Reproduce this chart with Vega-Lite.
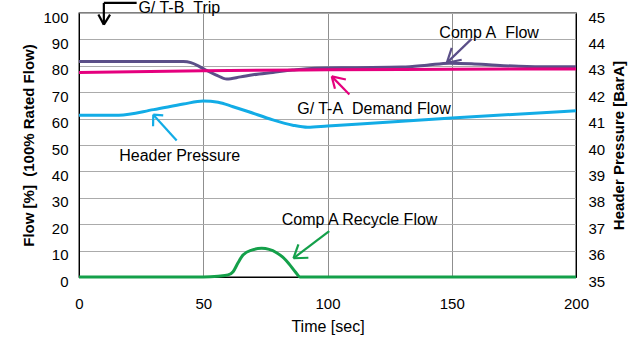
{
  "$schema": "https://vega.github.io/schema/vega-lite/v6.json",
  "width": 497,
  "height": 264,
  "autosize": "none",
  "padding": {"left": 79, "top": 13, "right": 65, "bottom": 62},
  "config": {
    "font": "Liberation Sans",
    "view": {"stroke": "#000000", "strokeWidth": 1.3},
    "axis": {"labelColor": "#000000", "titleColor": "#000000", "domainColor": "#000000", "labelFont": "Liberation Sans", "titleFont": "Liberation Sans"}
  },
  "datasets": {
    "flows": [
      {"series": "Comp A Flow", "t": 0, "f": 81.6},
      {"series": "Comp A Flow", "t": 42, "f": 81.6},
      {"series": "Comp A Flow", "t": 45, "f": 81.2},
      {"series": "Comp A Flow", "t": 48, "f": 80.0},
      {"series": "Comp A Flow", "t": 51, "f": 78.4},
      {"series": "Comp A Flow", "t": 55, "f": 76.6},
      {"series": "Comp A Flow", "t": 59.5, "f": 75.0},
      {"series": "Comp A Flow", "t": 65, "f": 75.8},
      {"series": "Comp A Flow", "t": 70, "f": 76.6},
      {"series": "Comp A Flow", "t": 78, "f": 77.5},
      {"series": "Comp A Flow", "t": 86, "f": 78.4},
      {"series": "Comp A Flow", "t": 95, "f": 79.1},
      {"series": "Comp A Flow", "t": 110, "f": 79.3},
      {"series": "Comp A Flow", "t": 130, "f": 79.5},
      {"series": "Comp A Flow", "t": 140, "f": 80.2},
      {"series": "Comp A Flow", "t": 149, "f": 81.0},
      {"series": "Comp A Flow", "t": 158, "f": 80.8},
      {"series": "Comp A Flow", "t": 168, "f": 80.2},
      {"series": "Comp A Flow", "t": 177, "f": 79.8},
      {"series": "Comp A Flow", "t": 190, "f": 79.6},
      {"series": "Comp A Flow", "t": 200, "f": 79.6},
      {"series": "G/T-A Demand Flow", "t": 0, "f": 77.5},
      {"series": "G/T-A Demand Flow", "t": 50, "f": 78.1},
      {"series": "G/T-A Demand Flow", "t": 100, "f": 78.5},
      {"series": "G/T-A Demand Flow", "t": 150, "f": 78.7},
      {"series": "G/T-A Demand Flow", "t": 200, "f": 78.8},
      {"series": "Comp A Recycle Flow", "t": 0, "f": 0},
      {"series": "Comp A Recycle Flow", "t": 50, "f": 0},
      {"series": "Comp A Recycle Flow", "t": 56, "f": 0.3},
      {"series": "Comp A Recycle Flow", "t": 60, "f": 0.8},
      {"series": "Comp A Recycle Flow", "t": 62, "f": 2.0},
      {"series": "Comp A Recycle Flow", "t": 64, "f": 5.4},
      {"series": "Comp A Recycle Flow", "t": 66, "f": 8.3},
      {"series": "Comp A Recycle Flow", "t": 69.5, "f": 10.2},
      {"series": "Comp A Recycle Flow", "t": 73.5, "f": 10.85},
      {"series": "Comp A Recycle Flow", "t": 79.5, "f": 9.2},
      {"series": "Comp A Recycle Flow", "t": 82, "f": 7.5},
      {"series": "Comp A Recycle Flow", "t": 85, "f": 4.4},
      {"series": "Comp A Recycle Flow", "t": 87, "f": 2.0},
      {"series": "Comp A Recycle Flow", "t": 89, "f": 0},
      {"series": "Comp A Recycle Flow", "t": 200, "f": 0}
    ],
    "pressure": [
      {"t": 0, "p": 41.13},
      {"t": 16, "p": 41.13},
      {"t": 30, "p": 41.34},
      {"t": 42, "p": 41.55},
      {"t": 50, "p": 41.67},
      {"t": 56, "p": 41.62},
      {"t": 62, "p": 41.45},
      {"t": 68, "p": 41.27},
      {"t": 78, "p": 40.95},
      {"t": 86, "p": 40.75},
      {"t": 92, "p": 40.67},
      {"t": 100, "p": 40.72},
      {"t": 113, "p": 40.8},
      {"t": 150, "p": 41.02},
      {"t": 200, "p": 41.3}
    ],
    "arrows": [
      {"series": "Trip", "t": 10, "f": 103.8, "t2": 23.2, "f2": 103.8},
      {"series": "Trip", "t": 10, "f": 103.8, "t2": 10, "f2": 95.6},
      {"series": "Trip", "t": 10, "f": 95.6, "t2": 7.8, "f2": 99.4},
      {"series": "Trip", "t": 10, "f": 95.6, "t2": 12.5, "f2": 99.4},
      {"series": "Comp A Flow", "t": 158, "f": 90.2, "t2": 148, "f2": 81.1},
      {"series": "Comp A Flow", "t": 148, "f": 81.1, "t2": 150, "f2": 86.8},
      {"series": "Comp A Flow", "t": 148, "f": 81.1, "t2": 154, "f2": 82.3},
      {"series": "G/T-A Demand Flow", "t": 108.8, "f": 69.1, "t2": 101.7, "f2": 76.0},
      {"series": "G/T-A Demand Flow", "t": 101.7, "f": 76.0, "t2": 107.4, "f2": 74.8},
      {"series": "G/T-A Demand Flow", "t": 101.7, "f": 76.0, "t2": 103, "f2": 71.3},
      {"series": "Header Pressure", "t": 39.3, "f": 51.7, "t2": 29.9, "f2": 61.5},
      {"series": "Header Pressure", "t": 29.9, "f": 61.5, "t2": 29.8, "f2": 57.1},
      {"series": "Header Pressure", "t": 29.9, "f": 61.5, "t2": 33.9, "f2": 61.2},
      {"series": "Comp A Recycle Flow", "t": 100.7, "f": 17.4, "t2": 86.3, "f2": 7.1},
      {"series": "Comp A Recycle Flow", "t": 86.3, "f": 7.1, "t2": 92.3, "f2": 7.3},
      {"series": "Comp A Recycle Flow", "t": 86.3, "f": 7.1, "t2": 88.3, "f2": 12.4}
    ],
    "labels": [
      {"label": "G/ T-B\u00a0\u00a0Trip", "t": 23.9, "f": 101.8},
      {"label": "Comp A\u00a0\u00a0Flow", "t": 145, "f": 92.5},
      {"label": "G/ T-A\u00a0\u00a0Demand Flow", "t": 87.8, "f": 63.6},
      {"label": "Header Pressure", "t": 16.2, "f": 46},
      {"label": "Comp A Recycle Flow", "t": 81.6, "f": 21.6}
    ]
  },
  "layer": [
    {
      "layer": [
        {
          "data": {"name": "flows"},
          "mark": {"type": "line", "strokeWidth": 3, "interpolate": "monotone"},
          "encoding": {
            "x": {"field": "t", "type": "quantitative", "scale": {"domain": [0, 200], "nice": false},
              "axis": {"values": [0, 50, 100, 150, 200], "title": "Time [sec]", "tickSize": 0, "labelPadding": 19, "labelFontSize": 15, "labelFlush": false, "titleFontSize": 16, "titleFontWeight": "normal", "titleY": 49, "titleBaseline": "middle", "gridColor": "#8f8f8f", "gridOpacity": 1}},
            "y": {"field": "f", "type": "quantitative", "scale": {"domain": [0, 100], "nice": false},
              "axis": {"values": [0, 10, 20, 30, 40, 50, 60, 70, 80, 90, 100], "title": "Flow [%]\u00a0\u00a0(100% Rated Flow)", "tickSize": 0, "labelPadding": 11, "labelFontSize": 15, "labelOffset": 4, "titleFontSize": 15, "titleFontWeight": "bold", "titleAngle": -90, "titleX": -51, "titleY": 132, "titleAlign": "center", "titleBaseline": "middle", "gridColor": "#ababab", "gridOpacity": 1}},
            "color": {"field": "series", "type": "nominal", "legend": null,
              "scale": {"domain": ["Comp A Flow", "G/T-A Demand Flow", "Header Pressure", "Comp A Recycle Flow", "Trip"], "range": ["#5b4f88", "#e5007e", "#12ace6", "#14a04a", "#000000"]}}
          }
        },
        {
          "data": {"name": "arrows"},
          "mark": {"type": "rule", "strokeWidth": 2.2},
          "encoding": {
            "x": {"field": "t", "type": "quantitative",
              "axis": {"values": [0, 50, 100, 150, 200], "title": "Time [sec]", "tickSize": 0, "labelPadding": 19, "labelFontSize": 15, "labelFlush": false, "titleFontSize": 16, "titleFontWeight": "normal", "titleY": 49, "titleBaseline": "middle", "gridColor": "#8f8f8f", "gridOpacity": 1}},
            "y": {"field": "f", "type": "quantitative",
              "axis": {"values": [0, 10, 20, 30, 40, 50, 60, 70, 80, 90, 100], "title": "Flow [%]\u00a0\u00a0(100% Rated Flow)", "tickSize": 0, "labelPadding": 11, "labelFontSize": 15, "labelOffset": 4, "titleFontSize": 15, "titleFontWeight": "bold", "titleAngle": -90, "titleX": -51, "titleY": 132, "titleAlign": "center", "titleBaseline": "middle", "gridColor": "#ababab", "gridOpacity": 1}},
            "x2": {"field": "t2"},
            "y2": {"field": "f2"},
            "color": {"field": "series", "type": "nominal", "legend": null}
          }
        },
        {
          "data": {"name": "labels"},
          "mark": {"type": "text", "align": "left", "baseline": "middle", "fontSize": 16, "font": "Liberation Sans", "color": "#000000"},
          "encoding": {
            "x": {"field": "t", "type": "quantitative",
              "axis": {"values": [0, 50, 100, 150, 200], "title": "Time [sec]", "tickSize": 0, "labelPadding": 19, "labelFontSize": 15, "labelFlush": false, "titleFontSize": 16, "titleFontWeight": "normal", "titleY": 49, "titleBaseline": "middle", "gridColor": "#8f8f8f", "gridOpacity": 1}},
            "y": {"field": "f", "type": "quantitative",
              "axis": {"values": [0, 10, 20, 30, 40, 50, 60, 70, 80, 90, 100], "title": "Flow [%]\u00a0\u00a0(100% Rated Flow)", "tickSize": 0, "labelPadding": 11, "labelFontSize": 15, "labelOffset": 4, "titleFontSize": 15, "titleFontWeight": "bold", "titleAngle": -90, "titleX": -51, "titleY": 132, "titleAlign": "center", "titleBaseline": "middle", "gridColor": "#ababab", "gridOpacity": 1}},
            "text": {"field": "label"}
          }
        }
      ]
    },
    {
      "data": {"name": "pressure"},
      "mark": {"type": "line", "strokeWidth": 3, "interpolate": "monotone", "color": "#12ace6"},
      "encoding": {
        "x": {"field": "t", "type": "quantitative",
          "axis": {"values": [0, 50, 100, 150, 200], "title": "Time [sec]", "tickSize": 0, "labelPadding": 19, "labelFontSize": 15, "labelFlush": false, "titleFontSize": 16, "titleFontWeight": "normal", "titleY": 49, "titleBaseline": "middle", "gridColor": "#8f8f8f", "gridOpacity": 1}},
        "y": {"field": "p", "type": "quantitative", "scale": {"domain": [35, 45], "nice": false},
          "axis": {"orient": "right", "values": [35, 36, 37, 38, 39, 40, 41, 42, 43, 44, 45], "grid": false, "title": "Header Pressure [BarA]", "tickSize": 0, "labelPadding": 12, "labelFontSize": 15, "labelOffset": 4, "titleFontSize": 15, "titleFontWeight": "bold", "titleAngle": -90, "titleX": 42, "titleY": 132, "titleAlign": "center", "titleBaseline": "middle"}}
      }
    }
  ],
  "resolve": {"scale": {"y": "independent"}}
}
